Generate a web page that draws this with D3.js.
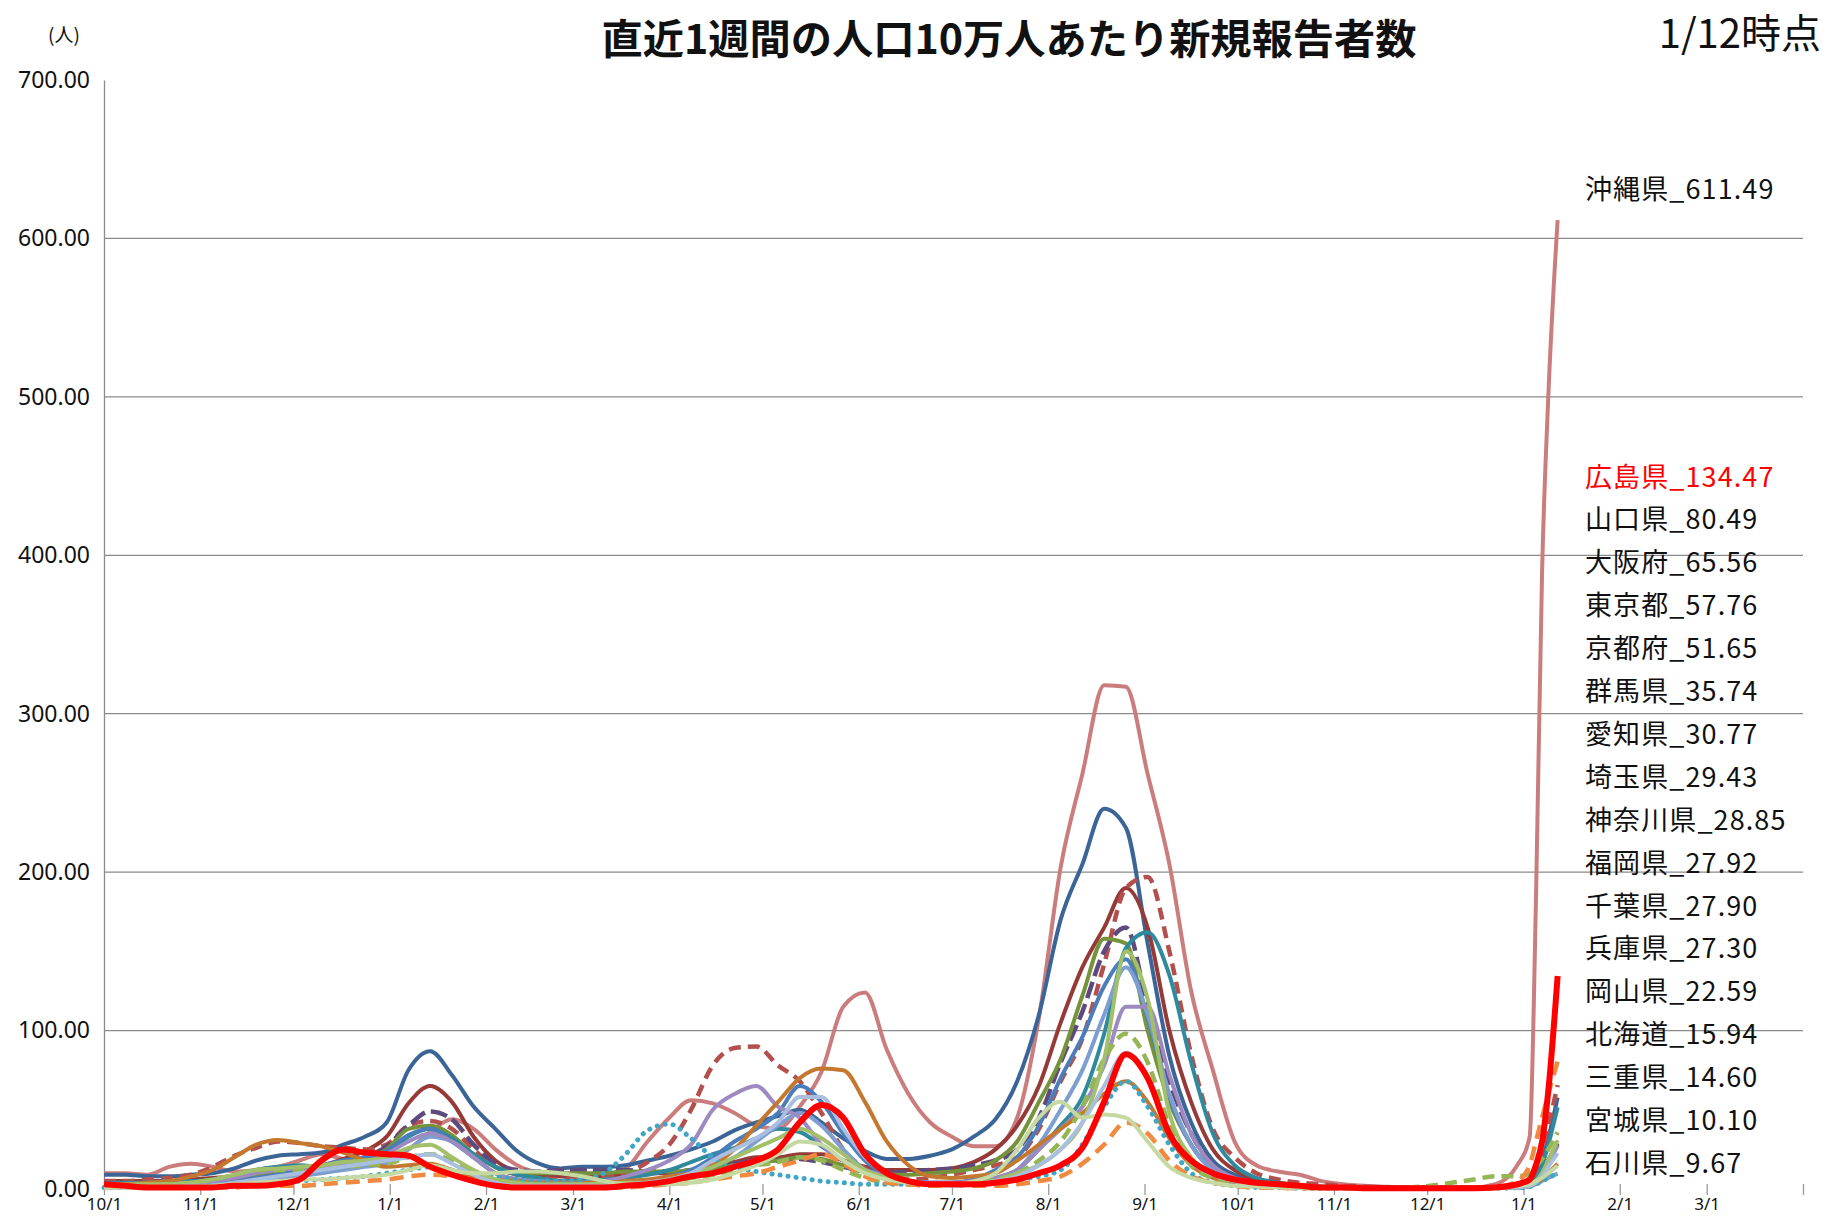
<!DOCTYPE html>
<html>
<head>
<meta charset="utf-8">
<script src="https://cdn.jsdelivr.net/npm/d3@7"></script>
<style>
  body { margin: 0; background: #fff; }
  svg text { font-family: "Noto Sans CJK JP", "Noto Sans", sans-serif; }
</style>
</head>
<body>
<div id="chart"></div>
<script>
// --- DATA ---

// weekly sample dates (plus a few extra points for the January 2022 surge)
const dates = [
  "2020-10-01","2020-10-08","2020-10-15","2020-10-22","2020-10-29",
  "2020-11-05","2020-11-12","2020-11-19","2020-11-26",
  "2020-12-03","2020-12-10","2020-12-17","2020-12-24","2020-12-31",
  "2021-01-07","2021-01-14","2021-01-21","2021-01-28",
  "2021-02-04","2021-02-11","2021-02-18","2021-02-25",
  "2021-03-04","2021-03-11","2021-03-18","2021-03-25",
  "2021-04-01","2021-04-08","2021-04-15","2021-04-22","2021-04-29",
  "2021-05-06","2021-05-13","2021-05-20","2021-05-27",
  "2021-06-03","2021-06-10","2021-06-17","2021-06-24",
  "2021-07-01","2021-07-08","2021-07-15","2021-07-22","2021-07-29",
  "2021-08-05","2021-08-12","2021-08-19","2021-08-26",
  "2021-09-02","2021-09-09","2021-09-16","2021-09-23","2021-09-30",
  "2021-10-07","2021-10-14","2021-10-21","2021-10-28",
  "2021-11-04","2021-11-11","2021-11-18","2021-11-25",
  "2021-12-02","2021-12-09","2021-12-16","2021-12-23","2021-12-30",
  "2022-01-03","2022-01-05","2022-01-07","2022-01-09","2022-01-12"
];

const okinawa = [10,10,9,14,16, 14,11,12,14, 18,22,19,17,20, 25,36,44,38, 25,15,10,8, 7,9,13,30,
  45,56,54,48,40, 38,52,74,115, 124,88,60,42, 33,27,27,45,108, 203,262,318,317, 262,205,125,75,30,
  15,11,9,5, 3,2,1.5,1, 1,1,1,3,15, 33,180,390,500,611.49];
const hiroshima = [3,2,1,1,1, 1,2,2,3, 6,18,25,23,22, 21,14,9,5, 2,1,1,1, 1,1,2,3,
  5,8,10,14,18, 25,42,53,45, 22,10,5,3, 3,3,4,6,10, 15,26,55,85, 70,35,18,10,6,
  4,3,2,1, 1,0.5,0.5,0.5, 0.5,0.5,0.5,1,3, 6,15,30,62,134.47];
const tokyo = [9,9,8,8,9, 10,13,18,21, 22,23,28,33,42, 75,87,72,52, 38,24,16,13, 14,14,15,18,
  21,25,30,37,42, 46,50,42,32, 24,19,19,21, 25,33,44,68,110, 170,205,240,228, 155,84,42,18,9,
  5,3,2,1.5, 1,1,1,0.8, 0.8,0.8,0.8,1,2, 4,9,18,32,57.76];
const osaka = [5,5,6,7,9, 14,21,26,30, 29,27,26,25,28, 40,43,38,25, 14,9,7,6, 6,7,10,17,
  28,50,78,89,90, 78,68,48,25, 13,8,6,7, 9,12,15,20,38, 68,95,142,190, 197,150,85,38,20,
  10,6,4,3, 2,1.5,1,1, 1,1,1,1,2, 5,12,25,40,65.56];
const kanagawa = [5,5,5,5,6, 7,8,11,13, 14,15,19,24,33, 54,65,55,33, 18,11,9,8, 8,8,9,10,
  10,12,15,17,20, 20,22,22,18, 14,12,12,12, 13,17,25,40,65, 105,140,165,190, 165,100,55,25,12,
  6,4,2,1.5, 1,1,1,0.8, 0.8,0.8,0.8,1,1.5, 3,6,11,18,28.85];
const saitama = [3,3,3,4,4, 5,6,8,10, 11,12,16,20,27, 40,49,44,28, 16,12,11,12, 12,12,12,11,
  11,12,14,16,18, 18,19,17,14, 11,10,11,12, 13,15,18,25,45, 80,112,150,165, 115,68,35,15,7,
  4,2.5,1.5,1, 1,0.8,0.8,0.6, 0.6,0.6,0.6,0.8,1.2, 3,6,11,18,29.43];
const chiba = [3,3,3,4,4, 5,6,8,10, 11,12,15,19,25, 38,40,34,22, 14,10,10,10, 10,10,11,11,
  11,12,13,15,17, 18,20,19,15, 11,9,9,10, 11,13,18,30,55, 82,122,158,155, 100,55,28,12,6,
  3,2,1.5,1, 0.8,0.6,0.6,0.5, 0.5,0.5,0.5,0.7,1.2, 3,6,11,17,27.90];
const kyoto = [4,4,4,5,5, 6,8,12,14, 15,14,16,18,22, 33,38,32,22, 14,9,7,5, 5,6,7,9,
  12,17,22,26,32, 38,36,27,18, 12,8,5,4, 4,5,7,12,25, 40,58,98,152, 162,135,80,35,15,
  7,4,2.5,1.5, 1,0.8,0.6,0.5, 0.5,0.5,0.5,0.6,1, 3,7,15,28,51.65];
const fukuoka = [3,3,3,3,3, 4,5,7,9, 12,15,18,20,24, 34,38,30,20, 10,6,4,3, 3,3,4,5,
  8,12,20,30,38, 48,65,55,35, 18,9,5,4, 4,6,12,20,40, 70,96,128,145, 108,58,28,12,6,
  3,2,1.2,0.8, 0.6,0.5,0.5,0.5, 0.5,0.5,0.5,0.6,1, 2.5,5,10,17,27.92];
const hyogo = [3,3,3,4,4, 5,7,10,12, 13,14,15,17,22, 30,35,30,20, 10,6,5,4, 4,5,8,12,
  18,28,50,60,65, 52,45,28,18, 12,8,5,4, 4,5,7,12,25, 38,52,78,115, 115,72,35,15,7,
  4,2.5,1.5,1, 0.8,0.6,0.6,0.5, 0.5,0.5,0.5,0.6,1, 2.5,5,10,17,27.30];
const aichi = [3,3,3,3,4, 6,9,12,13, 14,15,17,18,20, 26,28,20,12, 6,4,3,3, 3,3,4,4,
  6,9,14,20,26, 32,38,32,22, 12,7,4,3, 3,3,5,10,15, 25,42,82,150, 120,48,20,10,5,
  3,2,1.2,0.8, 0.6,0.5,0.5,0.5, 0.5,0.5,0.5,0.6,1, 2.5,5,10,18,30.77];
const gunma = [2,2,2,3,4, 6,9,12,12, 12,13,14,15,16, 20,22,18,10, 5,4,3,3, 3,3,3,4,
  5,7,9,12,15, 17,20,18,12, 7,4,3,3, 3,4,6,10,18, 30,52,82,98, 80,40,15,7,4,
  2,1.5,1,0.8, 0.6,0.5,0.5,1, 2,4,6,8,8, 10,14,19,25,35.74];
const okayama = [1,1,1,1,2, 2,4,6,8, 10,12,14,16,18, 20,22,16,9, 4,2,2,2, 2,2,3,4,
  6,10,18,25,32, 42,58,58,38, 20,10,5,3, 2,3,5,8,15, 25,42,65,86, 70,35,17,9,5,
  3,2,1.2,0.8, 0.6,0.5,0.5,0.5, 0.5,0.5,0.5,0.6,1, 2,4,8,14,22.59];
const ishikawa = [2,2,2,2,3, 3,4,5,6, 8,10,12,14,16, 25,33,30,20, 10,6,4,3, 3,3,3,4,
  6,9,14,20,30, 40,48,40,25, 12,6,4,3, 3,4,6,12,28, 50,75,110,140, 110,60,28,12,6,
  3,2,1.2,0.8, 0.6,0.5,0.5,0.5, 0.5,0.5,0.5,0.6,0.8, 1.5,3,5,7,9.67];
const hokkaido = [3,3,4,5,8, 12,20,28,31, 29,27,23,18,14, 15,16,12,8, 6,5,4,4, 4,4,5,6,
  8,10,15,25,40, 55,70,76,75, 55,30,15,8, 7,8,10,18,28, 38,48,60,68, 55,32,15,7,4,
  2,1.5,1,0.8, 0.6,0.5,0.5,0.5, 0.5,0.5,0.5,0.6,1, 2,3.5,6,10,15.94];
const mie = [1,1,1,1,1, 2,3,4,5, 6,6,7,8,9, 12,15,12,10, 10,11,11,10, 8,5,3,3,
  3,4,6,10,15, 22,30,28,18, 10,6,4,3, 3,5,10,25,45, 55,45,47,45, 30,14,7,4,2,
  1.5,1,0.8,0.6, 0.5,0.5,0.5,0.5, 0.5,0.5,0.5,1,2, 3,5,7,10,14.60];
const miyagi = [1,1,1,1,2, 2,3,3,4, 5,6,7,8,10, 12,14,12,10, 8,6,5,5, 6,10,22,37,
  41,32,20,14,11, 9,7,5,4, 3,3,3,3, 3,3,4,6,8, 12,28,52,68, 52,28,10,4,2,
  1,0.8,0.5,0.5, 0.5,0.5,0.5,0.5, 0.5,0.5,0.5,0.5,0.6, 1.5,3,5,7,10.10];
const yamaguchi = [1,1,1,1,1, 1,1,2,2, 2,3,4,5,6, 8,9,8,6, 4,2,1,1, 1,1,1,2,
  3,4,6,8,10, 14,18,22,16, 8,4,3,2, 2,2,2,3,5, 8,16,28,42, 35,18,8,4,2,
  1,0.8,0.5,0.5, 0.5,0.5,0.5,0.5, 0.5,0.5,0.5,1,5, 15,30,45,60,80.49];

// labels on the right (latest value, 1/12)
const topLabel = "沖縄県_611.49";
const listLabels = ["広島県_134.47","山口県_80.49","大阪府_65.56","東京都_57.76","京都府_51.65",
  "群馬県_35.74","愛知県_30.77","埼玉県_29.43","神奈川県_28.85","福岡県_27.92","千葉県_27.90",
  "兵庫県_27.30","岡山県_22.59","北海道_15.94","三重県_14.60","宮城県_10.10","石川県_9.67"];

const yTicks = [0,100,200,300,400,500,600,700];
const monthTicks = ["2020-10-01","2020-11-01","2020-12-01","2021-01-01","2021-02-01","2021-03-01",
  "2021-04-01","2021-05-01","2021-06-01","2021-07-01","2021-08-01","2021-09-01","2021-10-01",
  "2021-11-01","2021-12-01","2022-01-01","2022-02-01","2022-03-01","2022-04-01"];

const title = "直近1週間の人口10万人あたり新規報告者数";
const asOf = "1/12時点";
const unit = "(人)";

// --- STYLES (series drawn in this order, last on top) ---
const series = [
  {name:"沖縄県", values: okinawa,   color:"#CB7C7C", width:4},
  {name:"東京都", values: tokyo,     color:"#3B6497", width:4},
  {name:"神奈川県", values: kanagawa, color:"#963A37", width:4},
  {name:"大阪府", values: osaka,     color:"#B3504D", width:4.5, dash:"12,7"},
  {name:"埼玉県", values: saitama,   color:"#5F4A7D", width:4.5, dash:"17,6"},
  {name:"千葉県", values: chiba,     color:"#76933C", width:4},
  {name:"京都府", values: kyoto,     color:"#2F8A9E", width:4},
  {name:"福岡県", values: fukuoka,   color:"#4A7DBA", width:4},
  {name:"石川県", values: ishikawa,  color:"#7D9ED0", width:4},
  {name:"兵庫県", values: hyogo,     color:"#9C8AC0", width:4},
  {name:"北海道", values: hokkaido,  color:"#C4782F", width:4},
  {name:"群馬県", values: gunma,     color:"#95B655", width:4.5, dash:"12,7"},
  {name:"宮城県", values: miyagi,    color:"#3FA6C4", width:5, dash:"0.1,8", cap:"round"},
  {name:"山口県", values: yamaguchi, color:"#F08A40", width:4.5, dash:"14,8"},
  {name:"愛知県", values: aichi,     color:"#A2C06A", width:4},
  {name:"岡山県", values: okayama,   color:"#A9BFDF", width:4},
  {name:"三重県", values: mie,       color:"#C5D9A3", width:4},
  {name:"広島県", values: hiroshima, color:"#FF0000", width:6}
];

// --- LAYOUT ---
const W = 1836, H = 1217;
const plot = {left: 104, right: 1803, top: 80, bottom: 1189};
const parse = d3.timeParse("%Y-%m-%d");

const svg = d3.select("#chart").append("svg")
  .attr("width", W).attr("height", H)
  .style("background", "#fff");

const x = d3.scaleTime()
  .domain([parse("2020-10-01"), parse("2022-04-01")])
  .range([plot.left, plot.right]);
const y = d3.scaleLinear()
  .domain([0, 700])
  .range([plot.bottom, plot.top]);

// gridlines
svg.append("g").attr("class", "grid")
  .selectAll("line")
  .data(yTicks.filter(v => v > 0 && v < 700))
  .join("line")
  .attr("x1", plot.left).attr("x2", plot.right)
  .attr("y1", d => y(d)).attr("y2", d => y(d))
  .attr("stroke", "#8a8a8a").attr("stroke-width", 1.3);

// y axis
const yAxisG = svg.append("g")
  .attr("transform", `translate(${plot.left},0)`)
  .call(d3.axisLeft(y).tickValues(yTicks).tickFormat(d3.format(".2f"))
    .tickSize(0).tickSizeOuter(0).tickPadding(14));
yAxisG.select(".domain").attr("stroke", "#8a8a8a").attr("stroke-width", 1.3);
yAxisG.selectAll("text").attr("font-size", 23).attr("fill", "#111")
  .style("font-family", "'Noto Sans', sans-serif");

// x axis (cross tick marks, no base line)
const xAxisG = svg.append("g")
  .attr("transform", `translate(0,${plot.bottom - 5})`)
  .call(d3.axisBottom(x).tickValues(monthTicks.map(parse))
    .tickFormat(d => d3.timeFormat("%Y-%m-%d")(d) === "2022-04-01" ? "" : d3.timeFormat("%-m/%-d")(d))
    .tickSize(11).tickPadding(3));
xAxisG.select(".domain").remove();
xAxisG.selectAll(".tick line").attr("stroke", "#9a9a9a").attr("stroke-width", 1.3);
xAxisG.selectAll("text").attr("font-size", 17).attr("fill", "#111")
  .style("font-family", "'Noto Sans', sans-serif");

// lines
const line = d3.line()
  .x(d => x(d.date))
  .y(d => y(d.value))
  .curve(d3.curveMonotoneX);

svg.append("g").attr("class", "lines")
  .selectAll("path")
  .data(series)
  .join("path")
  .attr("fill", "none")
  .attr("stroke", s => s.color)
  .attr("stroke-width", s => s.width)
  .attr("stroke-dasharray", s => s.dash || null)
  .attr("stroke-linecap", s => s.cap || "butt")
  .attr("stroke-linejoin", "round")
  .attr("d", s => line(s.values.map((v, i) => ({date: parse(dates[i]), value: v}))));

// right-hand labels
const labelX = 1585;
svg.append("text")
  .attr("x", labelX).attr("y", y(611.49) - 33)
  .attr("dominant-baseline", "central")
  .attr("font-size", 27).attr("letter-spacing", 1.1)
  .attr("fill", "#111")
  .text(topLabel);

svg.append("g").attr("class", "labels")
  .selectAll("text")
  .data(listLabels)
  .join("text")
  .attr("x", labelX)
  .attr("y", (d, i) => 475 + i * 42.9)
  .attr("dominant-baseline", "central")
  .attr("font-size", 27).attr("letter-spacing", 1.1)
  .attr("fill", (d, i) => i === 0 ? "#FF0000" : "#111")
  .text(d => d);

// titles
svg.append("text")
  .attr("x", 1009).attr("y", 36)
  .attr("text-anchor", "middle").attr("dominant-baseline", "central")
  .attr("font-size", 41).attr("font-weight", 700)
  .attr("textLength", 815).attr("lengthAdjust", "spacingAndGlyphs")
  .attr("fill", "#111")
  .text(title);

svg.append("text")
  .attr("x", 1821).attr("y", 31)
  .attr("text-anchor", "end").attr("dominant-baseline", "central")
  .attr("font-size", 40)
  .attr("fill", "#111")
  .text(asOf);

svg.append("text")
  .attr("x", 64).attr("y", 33)
  .attr("text-anchor", "middle").attr("dominant-baseline", "central")
  .attr("font-size", 19)
  .attr("fill", "#111")
  .text(unit);
</script>
</body>
</html>
